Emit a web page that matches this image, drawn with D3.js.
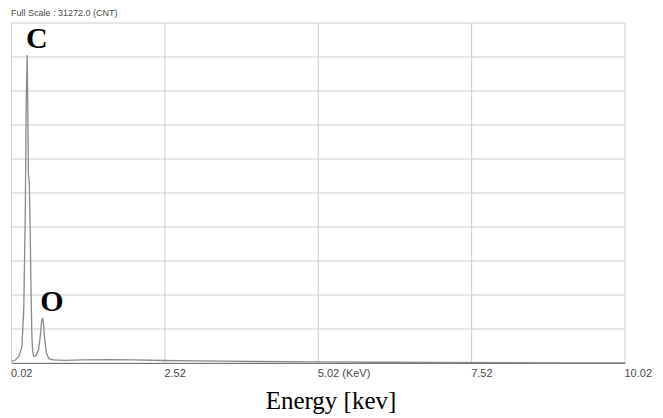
<!DOCTYPE html>
<html>
<head>
<meta charset="utf-8">
<script src="https://cdn.jsdelivr.net/npm/d3@7"></script>
<style>
  html, body { margin: 0; padding: 0; background: #fff; }
  svg { display: block; }
</style>
</head>
<body>
<svg id="chart" width="663" height="418"></svg>
<script>
// EDS spectrum: energy (keV) and counts
const energy = [0.02, 0.08, 0.14, 0.19, 0.22, 0.245, 0.26, 0.275, 0.285, 0.295, 0.31, 0.325, 0.34, 0.352, 0.365, 0.385,
  0.42, 0.46, 0.49, 0.51, 0.525, 0.54, 0.56, 0.59, 0.63, 0.70, 0.90, 1.20, 1.60, 2.00, 2.50, 3.00, 3.50, 4.00,
  5.00, 6.00, 7.00, 8.00, 9.00, 10.02];
const counts = [150, 250, 600, 1500, 5000, 14000, 24000, 28330, 24000, 17500, 16500, 12000, 6000, 2500, 1000, 600,
  700, 1200, 2500, 3800, 4140, 3700, 2200, 900, 400, 280, 250, 280, 300, 280, 230, 200, 170, 140,
  100, 70, 50, 30, 20, 10];

const fullScale = 31272.0;
const xTicks = [0.02, 2.52, 5.02, 7.52, 10.02];
const xTickLabels = ["0.02", "2.52", "5.02 (KeV)", "7.52", "10.02"];
const yDivisions = [0, 1, 2, 3, 4, 5, 6, 7, 8, 9, 10];
const peakLabels = [
  { name: "C", energy: 0.28, count: 28330 },
  { name: "O", energy: 0.525, count: 4140 }
];

const svg = d3.select("#chart");
const x = d3.scaleLinear().domain([0.02, 10.02]).range([11.5, 625]);
const y = d3.scaleLinear().domain([0, fullScale]).range([363, 23]);

// horizontal gridlines (10 divisions of full scale)
svg.append("g").selectAll("line").data(yDivisions).join("line")
  .attr("x1", x(0.02)).attr("x2", x(10.02))
  .attr("y1", d => y(fullScale * d / 10)).attr("y2", d => y(fullScale * d / 10))
  .attr("stroke", "#cdcdcd").attr("stroke-width", 1);

// vertical gridlines
svg.append("g").selectAll("line").data(xTicks).join("line")
  .attr("x1", d => x(d)).attr("x2", d => x(d))
  .attr("y1", y(fullScale)).attr("y2", y(0))
  .attr("stroke", "#cdcdcd").attr("stroke-width", 1);

// bottom axis
const xAxis = d3.axisBottom(x).tickValues(xTicks)
  .tickFormat((d, i) => xTickLabels[i]).tickSize(0).tickPadding(6);
const ax = svg.append("g").attr("transform", `translate(0,${y(0)})`).call(xAxis);
ax.select(".domain").attr("stroke", "#777").attr("stroke-width", 1.2);
ax.selectAll("text")
  .attr("text-anchor", "start")
  .attr("dx", "-1")
  .attr("font-family", "Liberation Sans, Arial, sans-serif")
  .attr("font-size", 11)
  .attr("fill", "#4a4a4a");

// spectrum trace
const line = d3.line().x((d, i) => x(energy[i])).y(d => y(d));
svg.append("path").datum(counts)
  .attr("d", line)
  .attr("fill", "none")
  .attr("stroke", "#8a8a8a")
  .attr("stroke-width", 1.3);

// header
svg.append("text")
  .attr("x", 11).attr("y", 16)
  .attr("font-family", "Liberation Sans, Arial, sans-serif")
  .attr("font-size", 9)
  .attr("fill", "#4a4a4a")
  .text("Full Scale : " + fullScale.toFixed(1) + " (CNT)");

// peak labels
svg.append("g").selectAll("text").data(peakLabels).join("text")
  .attr("x", d => x(d.energy) + 9.5)
  .attr("y", d => y(d.count) - 7)
  .attr("text-anchor", "middle")
  .attr("font-family", "Liberation Serif, Times New Roman, serif")
  .attr("font-weight", "bold")
  .attr("font-size", 30)
  .attr("fill", "#000")
  .text(d => d.name);

// axis title
svg.append("text")
  .attr("x", 331).attr("y", 409)
  .attr("text-anchor", "middle")
  .attr("font-family", "Liberation Serif, Times New Roman, serif")
  .attr("font-size", 25)
  .attr("fill", "#000")
  .text("Energy [kev]");
</script>
</body>
</html>
